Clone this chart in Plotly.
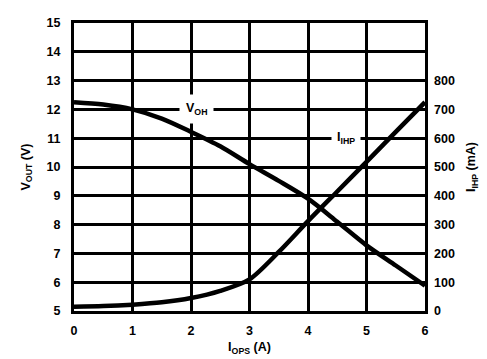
import plotly.graph_objects as go

# I_OPS (A)
i_ops = [0, 0.5, 1, 1.5, 2, 2.5, 3, 3.5, 4, 4.5, 5, 5.5, 6]
# V_OH (V), left axis
v_oh = [12.25, 12.17, 12.0, 11.68, 11.22, 10.72, 10.1, 9.52, 8.9, 8.1, 7.28, 6.58, 5.88]
# I_IHP (mA), right axis
i_ihp = [15, 17, 22, 30, 45, 70, 110, 205, 312, 415, 518, 622, 725]

left_ticks = list(range(5, 16))
right_ticks = list(range(0, 900, 100))
x_ticks = list(range(0, 7))

FONT = "Liberation Sans, Arial, sans-serif"
TICKFONT = dict(family=FONT, size=12.5, color="black", weight="bold")
TITLEFONT = dict(family=FONT, size=12.5, color="black", weight="bold")

fig = go.Figure()
fig.add_trace(go.Scatter(x=i_ops, y=v_oh, mode="lines",
                         line=dict(color="black", width=4.5, shape="spline", smoothing=0.8),
                         showlegend=False))
fig.add_trace(go.Scatter(x=i_ops, y=i_ihp, mode="lines", yaxis="y2",
                         line=dict(color="black", width=4.5, shape="spline", smoothing=0.8),
                         showlegend=False))

axis_common = dict(showline=True, linecolor="black", linewidth=3, mirror=True, ticks="",
                   zeroline=False, tickfont=TICKFONT)

fig.update_layout(
    width=487, height=359,
    margin=dict(l=66, r=70, t=8, b=56),
    paper_bgcolor="white", plot_bgcolor="white",
    font=dict(family=FONT, size=12, color="black"),
    xaxis=dict(range=[0, 6], tickvals=x_ticks, showgrid=True, gridcolor="black", gridwidth=3,
               title=dict(text="I<sub>OPS</sub> (A)", standoff=6, font=TITLEFONT),
               ticklabelstandoff=6, **axis_common),
    yaxis=dict(range=[5, 15], tickvals=left_ticks, showgrid=True, gridcolor="black", gridwidth=3,
               title=dict(text="V<sub>OUT</sub> (V)", standoff=14, font=TITLEFONT),
               ticklabelstandoff=8, **axis_common),
    yaxis2=dict(range=[0, 1000], tickvals=right_ticks, overlaying="y", side="right", showgrid=False,
                showline=False, ticks="", zeroline=False, ticklabelstandoff=8, tickfont=TICKFONT,
                title=dict(text="I<sub>IHP</sub> (mA)", standoff=12, font=TITLEFONT)),
)

fig.add_annotation(x=2.1, y=12, text="V<sub>OH</sub>", showarrow=False, bgcolor="white",
                   borderpad=6, font=TITLEFONT)
fig.add_annotation(x=4.65, y=11, text="I<sub>IHP</sub>", showarrow=False, bgcolor="white",
                   borderpad=5, font=TITLEFONT)

fig.write_html("out.html")
